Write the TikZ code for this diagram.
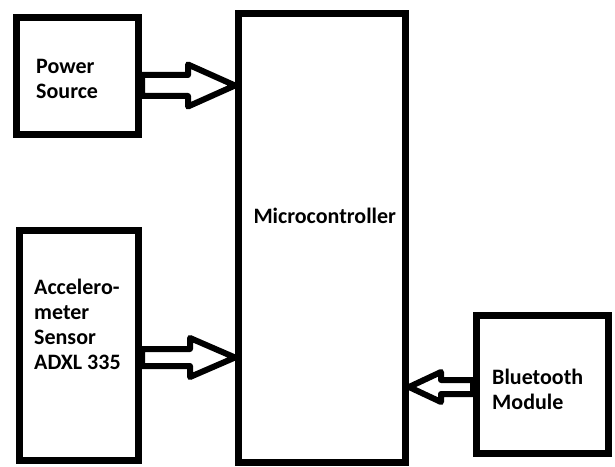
\documentclass[tikz,border=0pt]{standalone}
\usepackage{fontspec}
\setmainfont{Carlito}
\usetikzlibrary{positioning,calc}

\begin{document}
\begin{tikzpicture}[x=1pt,y=1pt,
    block/.style={draw, line width=7pt, inner sep=0pt},
    lbl/.style={font=\bfseries\fontsize{22}{25}\selectfont, align=left, inner sep=0pt, anchor=base west},
    hollow/.style={draw, line width=6pt, line join=round}]
        \useasboundingbox (0,0) rectangle (615,466);
        % blocks
        \node[block, minimum width=122, minimum height=117] (power) at (77.5,389.5) {};
        \node[block, minimum width=119, minimum height=229] (accel) at (79,120.5) {};
        \node[block, minimum width=167, minimum height=448] (micro) at (322,228) {};
        \node[block, minimum width=132, minimum height=138] (bt) at (542.5,82) {};
        \node[lbl] (powertxt) at (36,367.3) {Power\\Source};
        \node[lbl] (acceltxt) at (34,97) {Accelero-\\meter\\Sensor\\ADXL 335};
        \node[lbl] (microtxt) at (253.3,242.7) {Microcontroller};
        \node[lbl] (bttxt) at (492,57) {Bluetooth\\Module};
        % hollow arrows
        \coordinate (ps) at ($(power.east)+(0,-9)$);
        \coordinate (pt) at (ps -| micro.west);
        \draw[hollow] ($(ps)+(0,10.5)$) -- ($(pt)+(-47,10.5)$) -- ($(pt)+(-47,21)$) -- (pt)
            -- ($(pt)+(-47,-21)$) -- ($(pt)+(-47,-10.5)$) -- ($(ps)+(0,-10.5)$) -- cycle;
        \coordinate (as) at ($(accel.east)+(0,-12)$);
        \coordinate (at) at (as -| micro.west);
        \draw[hollow] ($(as)+(0,8.5)$) -- ($(at)+(-45,8.5)$) -- ($(at)+(-45,19.5)$) -- (at)
            -- ($(at)+(-45,-19.5)$) -- ($(at)+(-45,-8.5)$) -- ($(as)+(0,-8.5)$) -- cycle;
        \coordinate (bs) at ($(bt.west)+(0,-3)$);
        \coordinate (bb) at (bs -| micro.east);
        \draw[hollow] ($(bs)+(0,7)$) -- ($(bb)+(32,7)$) -- ($(bb)+(32,15)$) -- (bb)
            -- ($(bb)+(32,-15)$) -- ($(bb)+(32,-7)$) -- ($(bs)+(0,-7)$) -- cycle;
\end{tikzpicture}
\end{document}
